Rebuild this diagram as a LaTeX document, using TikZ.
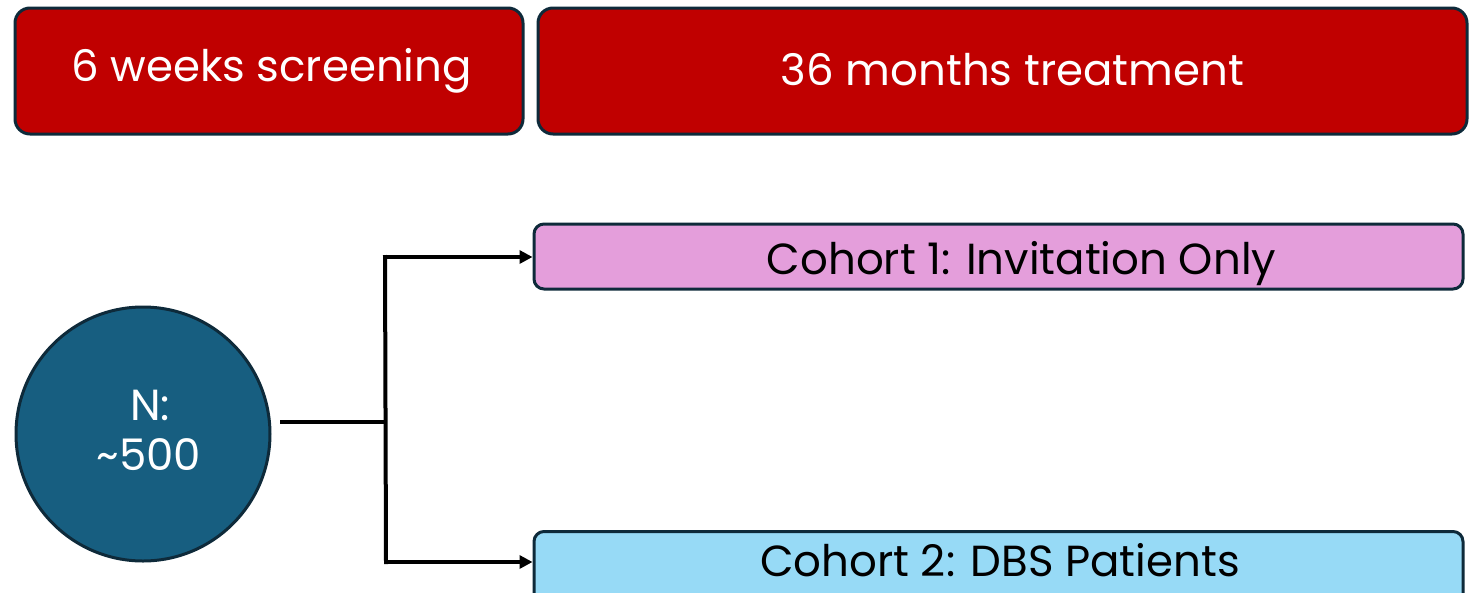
\documentclass[tikz,border=0pt]{standalone}
\usepackage{fontspec}
\setmainfont{Poppins}
\usetikzlibrary{arrows.meta}
\definecolor{hdrred}{HTML}{C00000}
\definecolor{edgenavy}{HTML}{0E2A3A}
\definecolor{pinkc}{HTML}{E49EDB}
\definecolor{bluec}{HTML}{97DAF6}
\definecolor{circ}{HTML}{175E80}
\tikzset{
  box/.style={draw=edgenavy, line width=3pt, rounded corners=15pt, inner sep=0pt},
  hdr/.style={box, fill=hdrred},
  cohort/.style={draw=edgenavy, line width=3pt, rounded corners=10pt, inner sep=0pt},
  lbl/.style={anchor=base, inner sep=0pt, font=\fontsize{43.5}{50}\selectfont},
  conn/.style={line width=4pt, draw=black},
  arr/.style={conn, -{Triangle[length=13pt,width=13pt]}}
}
\begin{document}
\begin{tikzpicture}[x=1pt,y=-1pt]
\useasboundingbox (0,0) rectangle (1473,592);
\clip (0,0) rectangle (1473,592);
\fill[white] (0,0) rectangle (1473,592);
\node[hdr, minimum width=508pt, minimum height=126pt] (screen) at (269,71) {};
\node[lbl, text=white] (screentxt) at (271.5,81) {6 weeks screening};
\node[hdr, minimum width=929pt, minimum height=126pt] (treat) at (1002.5,71) {};
\node[lbl, text=white] (treattxt) at (1012.5,85) {36 months treatment};
\node[cohort, fill=pinkc, minimum width=929pt, minimum height=65pt] (c1) at (998.5,256.5) {};
\node[lbl] (c1txt) at (1021.5,274) {Cohort 1: Invitation Only};
\node[cohort, fill=bluec, minimum width=929pt, minimum height=80pt, anchor=north] (c2) at (998.5,530) {};
\node[lbl] (c2txt) at (1000,576) {Cohort 2: DBS Patients};
\node[circle, draw=edgenavy, line width=3pt, fill=circ, minimum size=254pt, inner sep=0pt] (n) at (143,434) {};
\node[lbl, text=white] (ntxt1) at (150,420) {N:};
\node[lbl, text=white] (ntxt2) at (149,470) {\textasciitilde 500};
\coordinate (s) at (280,422);
\coordinate (j) at (385,422);
\coordinate (jt) at (385,257);
\coordinate (jb) at (386,562);
\draw[conn] (s) -- (j);
\draw[conn, line cap=rect] (jt) -- (jb);
\draw[arr] (jt) -- (c1.west |- jt);
\draw[arr] (jb) -- (c2.west |- jb);
\end{tikzpicture}
\end{document}
